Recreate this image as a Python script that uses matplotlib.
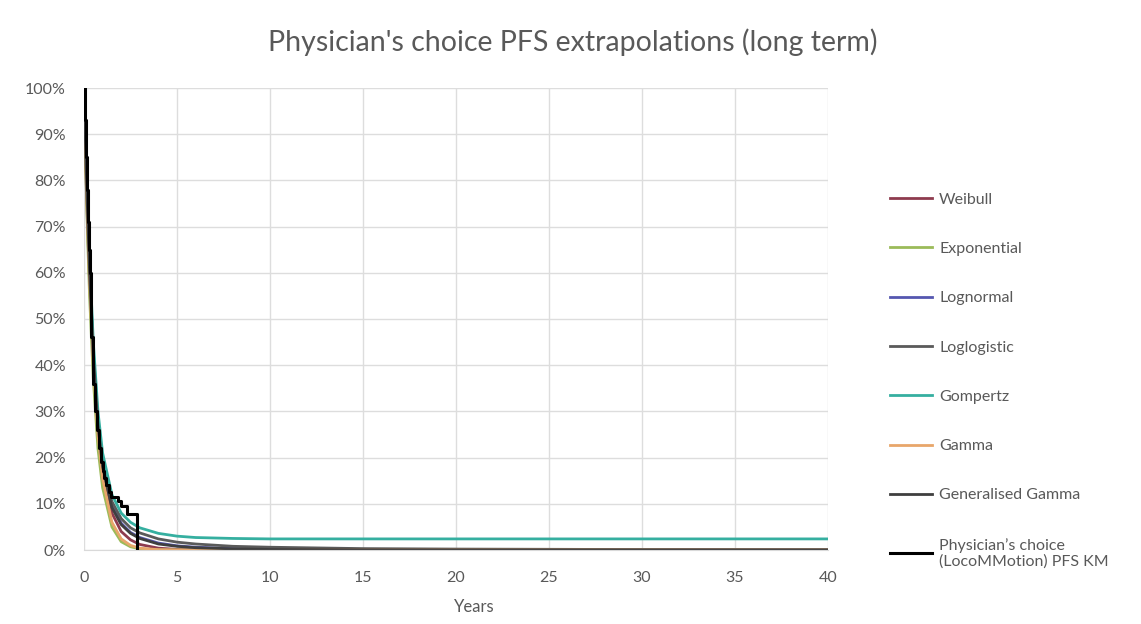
import matplotlib
matplotlib.use("Agg")
import matplotlib.pyplot as plt
from matplotlib.ticker import PercentFormatter, MultipleLocator

# ---- data ----
t_fit = [0, 0.1, 0.2, 0.3, 0.5, 0.75, 1, 1.5, 2, 2.5, 3, 4, 5, 6, 8, 10, 15, 20, 30, 40]

weibull = [1, 0.82, 0.69, 0.58, 0.41, 0.26, 0.17, 0.08, 0.04, 0.022, 0.012, 0.004, 0.0013,
           0.0004, 0.0001, 0, 0, 0, 0, 0]
exponential = [1, 0.82, 0.67, 0.55, 0.37, 0.22, 0.135, 0.05, 0.018, 0.007, 0.0025, 0.0003,
               0, 0, 0, 0, 0, 0, 0, 0]
lognormal = [1, 0.86, 0.73, 0.61, 0.42, 0.27, 0.18, 0.095, 0.058, 0.038, 0.027, 0.015, 0.009,
             0.006, 0.003, 0.0015, 0.0005, 0.0002, 0, 0]
loglogistic = [1, 0.85, 0.72, 0.61, 0.43, 0.28, 0.19, 0.105, 0.068, 0.048, 0.037, 0.024, 0.017,
               0.013, 0.008, 0.006, 0.003, 0.002, 0.001, 0.0007]
gompertz = [1, 0.86, 0.74, 0.63, 0.45, 0.30, 0.21, 0.12, 0.08, 0.06, 0.048, 0.036, 0.030,
            0.027, 0.025, 0.024, 0.024, 0.024, 0.024, 0.024]
gamma = [1, 0.84, 0.70, 0.58, 0.40, 0.25, 0.155, 0.06, 0.024, 0.010, 0.004, 0.0007, 0.0001,
         0, 0, 0, 0, 0, 0, 0]
gen_gamma = [1, 0.85, 0.72, 0.60, 0.42, 0.27, 0.18, 0.092, 0.055, 0.036, 0.025, 0.013, 0.008,
             0.005, 0.0025, 0.0012, 0.0004, 0.0001, 0, 0]

km_t = [0, 0.05, 0.1, 0.15, 0.2, 0.25, 0.3, 0.4, 0.5, 0.6, 0.7, 0.8, 0.9, 1.0, 1.1, 1.2, 1.35,
        1.45, 1.85, 2.0, 2.3, 2.85]
km_s = [1.0, 0.93, 0.85, 0.78, 0.71, 0.65, 0.60, 0.46, 0.36, 0.30, 0.26, 0.22, 0.19, 0.17,
        0.155, 0.14, 0.125, 0.115, 0.105, 0.095, 0.078, 0.0]

labels = ["Weibull", "Exponential", "Lognormal", "Loglogistic", "Gompertz", "Gamma",
          "Generalised Gamma", "Physician\u2019s choice\n(LocoMMotion) PFS KM"]
colors = ["#8E3B4E", "#9BBB59", "#5557B0", "#5A5A5A", "#35AFA0", "#E8A66A", "#3F3F3F", "#000000"]

x_ticks = [0, 5, 10, 15, 20, 25, 30, 35, 40]
x_label = "Years"
title = "Physician's choice PFS extrapolations (long term)"

# ---- figure ----
plt.rcParams['font.family'] = ['Lato', 'DejaVu Sans']
fig = plt.figure(figsize=(11.41, 6.24), dpi=100)
ax = fig.add_axes([84 / 1141, 1 - 550 / 624, (828 - 84) / 1141, (550 - 88) / 624])

series = [weibull, exponential, lognormal, loglogistic, gompertz, gamma, gen_gamma]
order = [4, 3, 2, 6, 0, 1, 5]
handles = [None] * 8
for i in order:
    ln, = ax.plot(t_fit, series[i], color=colors[i], lw=2.0, label=labels[i], zorder=2 + i * 0.01)
    handles[i] = ln
km_line, = ax.step(km_t, km_s, where='post', color=colors[7], lw=2.2, label=labels[7], zorder=3)
handles[7] = km_line

ax.set_xlim(0, 40)
ax.set_ylim(0, 1)
ax.set_xticks(x_ticks)
ax.yaxis.set_major_locator(MultipleLocator(0.1))
ax.yaxis.set_major_formatter(PercentFormatter(1.0, decimals=0))
ax.grid(True, color="#DDDDDD", lw=1)
ax.set_axisbelow(True)
for s in ["top", "right", "left"]:
    ax.spines[s].set_visible(False)
ax.spines["bottom"].set_color("#D9D9D9")
ax.tick_params(axis='both', length=0, labelsize=11.5, labelcolor="#595959")
ax.tick_params(axis='y', pad=13)
ax.tick_params(axis='x', pad=15)

fig.text(573 / 1141, 1 - 42 / 624, title, ha='center', va='center', fontsize=20.5, color="#595959")
fig.text(474 / 1141, 1 - 607 / 624, x_label, ha='center', va='center', fontsize=12, color="#595959")

leg = fig.legend(handles=handles, labels=labels, loc='upper left',
                 bbox_to_anchor=(876 / 1141, 1 - 178 / 624), frameon=False,
                 fontsize=11.5, handlelength=2.6, handletextpad=0.45, labelspacing=2.2,
                 labelcolor="#595959")

fig.savefig("out.png", dpi=100, facecolor="white")
